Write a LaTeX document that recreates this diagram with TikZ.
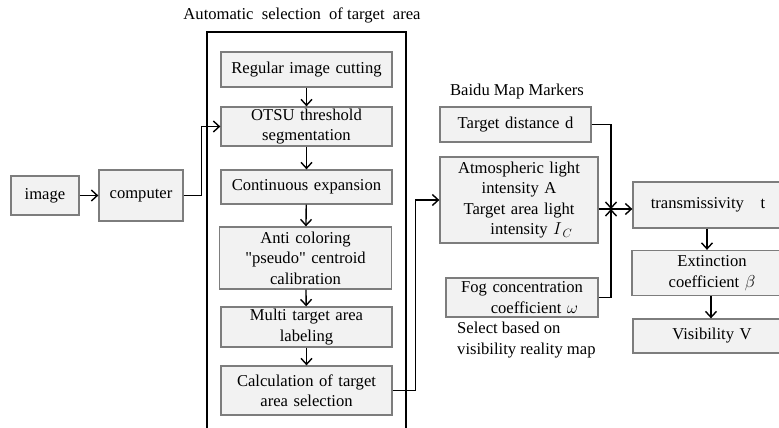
\documentclass[tikz,border=0pt]{standalone}
\usepackage{fontspec}
\setmainfont{Liberation Serif}[Ligatures=TeXOff]
\usetikzlibrary{arrows.meta}
\definecolor{boxfill}{RGB}{242,242,242}
\definecolor{boxline}{RGB}{125,125,125}
\begin{document}
\begin{tikzpicture}[x=1pt, y=-1pt,
        box/.style={draw=boxline, fill=boxfill, line width=1.3pt, align=center, inner sep=0pt,
            font=\fontsize{16.6}{20.5}\selectfont},
        lbl/.style={inner sep=0pt, font=\fontsize{16.6}{20.5}\selectfont},
        link/.style={line width=1.4pt, -{Straight Barb[length=6pt, width=11pt, line width=1.4pt]}}]

        \clip (0, 0) rectangle (779, 428);

        \node (title) at (302, 15) [lbl] {Automatic\ \ selection\ \ of target\ \ area};
        \draw[line width=2pt] (207, 430) -- (207, 32) -- (406, 32) -- (406, 430);

        \node (img) at (45, 195.5) [box, minimum width=68pt, text width=68pt, minimum height=39pt] {image};
        \node (comp) at (141, 195.5) [box, minimum width=84pt, text width=84pt, minimum height=51pt] {computer};

        \node (s-1) at (306.5, 69.5) [box, minimum width=171pt, text width=171pt, minimum height=35pt] {Regular image cutting};
        \node (s-2) at (306.5, 126.5) [box, minimum width=171pt, text width=171pt, minimum height=39pt] {OTSU threshold\\segmentation};
        \node (s-3) at (306.5, 187) [box, minimum width=171pt, text width=171pt, minimum height=34pt] {Continuous expansion};
        \node (s-4) at (305.5, 258) [box, minimum width=172pt, text width=172pt, minimum height=62pt] {Anti coloring\\"pseudo" centroid\\calibration};
        \node (s-5) at (306.5, 327) [box, minimum width=171pt, text width=171pt, minimum height=40pt] {Multi target area\\labeling};
        \node (s-6) at (306.5, 390.5) [box, minimum width=171pt, text width=171pt, minimum height=49pt] {Calculation of target\\area selection};

        \node (baidu) at (517, 92) [lbl] {Baidu Map Markers};
        \node (dist) at (515.5, 124.5) [box, minimum width=151pt, text width=151pt, minimum height=35pt] {Target distance d};
        \node (atm) at (519, 200) [box, minimum width=158pt, text width=158pt, minimum height=86pt] {Atmospheric light\\intensity A\\Target area light\\\hspace*{1.5em}intensity $I_{\,C}$};
        \node (fog) at (522, 297.5) [box, minimum width=152pt, text width=152pt, minimum height=39pt] {Fog concentration\\\hspace*{1.5em}coefficient $\omega$};
        \node (sel) at (457, 340) [lbl, anchor=west, align=left] {Select based on\\visibility reality map};

        \node (trans) at (708, 205) [box, minimum width=150pt, text width=150pt, minimum height=46pt] {transmissivity\quad t};
        \node (ext) at (712, 273) [box, minimum width=160pt, text width=160pt, minimum height=45pt] {Extinction\\coefficient $\beta$};
        \node (vis) at (712, 336) [box, minimum width=158pt, text width=158pt, minimum height=34pt] {Visibility V};

        \coordinate (jn) at (611, 209);
        \coordinate (c-1) at (707, 0);
        \coordinate (c-2) at (711, 0);

        \draw[link] (img) -- (comp);
        \draw[link] (comp.east) -- ++(18, 0) |- (s-2.west);

        \draw[link] (s-1) -- (s-2);
        \draw[link] (s-2) -- (s-3);
        \draw[link] (s-3) -- (s-4);
        \draw[link] (s-4) -- (s-5);
        \draw[link] (s-5) -- (s-6);

        \draw[link] (s-6.east) -- ++(23, 0) |- (atm.west);

        \draw[link] (dist.east) -| (jn);
        \draw[link] (fog.east) -| (jn);
        \draw[link] (atm.east |- jn) -- (trans.west |- jn);

        \draw[link] (trans.south -| c-1) -- (ext.north -| c-1);
        \draw[link] (ext.south -| c-2) -- (vis.north -| c-2);

    \end{tikzpicture}
\end{document}
